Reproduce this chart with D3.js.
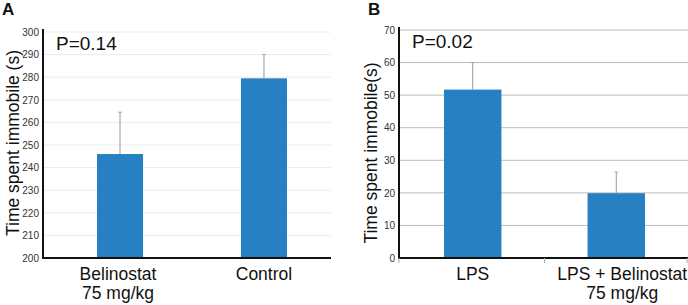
<!DOCTYPE html>
<html>
<head>
<meta charset="utf-8">
<script src="https://cdn.jsdelivr.net/npm/d3@7"></script>
<style>
  body { margin: 0; background: #fff; }
  svg { display: block; font-family: "Liberation Sans", Arial, sans-serif; }
</style>
</head>
<body>
<div id="chart"></div>
<script>
// Data
const groupsA = [['Belinostat', '75 mg/kg'], ['Control']]
const meansA = [246, 279.5]
const errA = [18.5, 10.5]
const ticksA = [200, 210, 220, 230, 240, 250, 260, 270, 280, 290, 300]

const groupsB = [['LPS'], ['LPS + Belinostat', '75 mg/kg']]
const meansB = [51.7, 19.9]
const errB = [8.3, 6.5]
const ticksB = [0, 10, 20, 30, 40, 50, 60, 70]

const svg = d3.select('#chart')
  .append('svg')
    .attr('width', 688)
    .attr('height', 305)

function panel(opts) {
  const g = svg.append('g')

  const y = d3.scaleLinear()
    .domain(opts.domain)
    .range([258, opts.top])

  // band range spans first bar's left edge to last bar's right edge
  const x = d3.scaleBand()
    .domain(d3.range(opts.groups.length))
    .range(opts.barSpan)
    .paddingInner(opts.padIn)
    .paddingOuter(0)

  // gridlines
  g.selectAll('.grid')
    .data(opts.ticks.slice(1))
    .join('line')
    .attr('x1', opts.left)
    .attr('x2', opts.gridEnd)
    .attr('y1', d => y(d))
    .attr('y2', d => y(d))
    .attr('stroke', opts.gridColor)
    .attr('stroke-width', 1)

  // error bars
  g.selectAll('.err')
    .data(opts.means)
    .join('line')
    .attr('x1', (d, i) => x(i) + x.bandwidth() / 2)
    .attr('x2', (d, i) => x(i) + x.bandwidth() / 2)
    .attr('y1', d => y(d))
    .attr('y2', (d, i) => y(d + opts.err[i]))
    .attr('stroke', '#999')
  g.selectAll('.cap')
    .data(opts.means)
    .join('line')
    .attr('x1', (d, i) => x(i) + x.bandwidth() / 2 - 2)
    .attr('x2', (d, i) => x(i) + x.bandwidth() / 2 + 2)
    .attr('y1', (d, i) => y(d + opts.err[i]))
    .attr('y2', (d, i) => y(d + opts.err[i]))
    .attr('stroke', '#aaa')

  // bars
  g.selectAll('.bar')
    .data(opts.means)
    .join('rect')
    .attr('x', (d, i) => x(i))
    .attr('y', d => y(d))
    .attr('width', x.bandwidth())
    .attr('height', d => 258 - y(d))
    .attr('fill', '#2680c2')

  // y axis
  const yAxis = g.append('g')
    .attr('transform', `translate(${opts.left},0)`)
    .call(d3.axisLeft(y).tickValues(opts.ticks).tickSize(0).tickPadding(4))
  yAxis.select('.domain').remove()
  yAxis.selectAll('text')
    .attr('font-size', 10)
    .attr('fill', '#333')
    .attr('font-family', '"Liberation Sans Narrow", "Liberation Sans", Arial, sans-serif')
  g.append('line')
    .attr('x1', opts.left).attr('x2', opts.left)
    .attr('y1', opts.top - 3).attr('y2', 259)
    .attr('stroke', '#111').attr('stroke-width', 2)

  // x axis
  g.append('line')
    .attr('x1', opts.left - 1).attr('x2', opts.gridEnd)
    .attr('y1', 258).attr('y2', 258)
    .attr('stroke', '#111').attr('stroke-width', 2)
  if (opts.xTicks) {
    const bounds = [opts.left, x(1) - x.step() * opts.padIn / 2, opts.gridEnd - 1]
    g.selectAll('.xt')
      .data(bounds)
      .join('line')
      .attr('x1', d => d).attr('x2', d => d)
      .attr('y1', 258).attr('y2', 263)
      .attr('stroke', '#aaa')
  }

  // category labels
  g.selectAll('.cat')
    .data(opts.groups)
    .join('text')
    .attr('x', (d, i) => x(i) + x.bandwidth() / 2 + opts.labelShift[i])
    .attr('y', 280)
    .attr('text-anchor', 'middle')
    .attr('font-size', 17.5)
    .attr('fill', '#111')
    .selectAll('tspan')
    .data(d => d)
    .join('tspan')
    .attr('x', function () { return d3.select(this.parentNode).attr('x') })
    .attr('dy', (d, i) => i === 0 ? 0 : 19)
    .text(d => d)

  // y label
  g.append('text')
    .attr('transform', `translate(${opts.labelX},${opts.labelY}) rotate(-90)`)
    .attr('text-anchor', 'middle')
    .attr('font-size', 17.5)
    .attr('fill', '#111')
    .text(opts.yLabel)

  // p value
  g.append('text')
    .attr('x', opts.left + 13)
    .attr('y', opts.pY)
    .attr('font-size', 19)
    .attr('fill', '#111')
    .text(opts.p)

  // panel letter
  g.append('text')
    .attr('x', opts.letterX)
    .attr('y', 15)
    .attr('font-size', 17)
    .attr('font-weight', 'bold')
    .attr('fill', '#111')
    .text(opts.letter)
}

panel({
  groups: groupsA, means: meansA, err: errA, ticks: ticksA,
  domain: [200, 300], top: 32, left: 43, barSpan: [97, 287], gridEnd: 331,
  padIn: 0.68, gridColor: '#ececec', xTicks: false,
  labelShift: [-2, 0],
  yLabel: 'Time spent immobile (s)', labelX: 19, labelY: 143,
  p: 'P=0.14', pY: 50, letter: 'A', letterX: 2
})

panel({
  groups: groupsB, means: meansB, err: errB, ticks: ticksB,
  domain: [0, 70], top: 30, left: 399, barSpan: [444, 645], gridEnd: 688,
  padIn: 0.6, gridColor: '#bdbdbd', xTicks: true,
  labelShift: [0, 6],
  yLabel: 'Time spent immobile(s)', labelX: 377, labelY: 153,
  p: 'P=0.02', pY: 48, letter: 'B', letterX: 368
})
</script>
</body>
</html>
